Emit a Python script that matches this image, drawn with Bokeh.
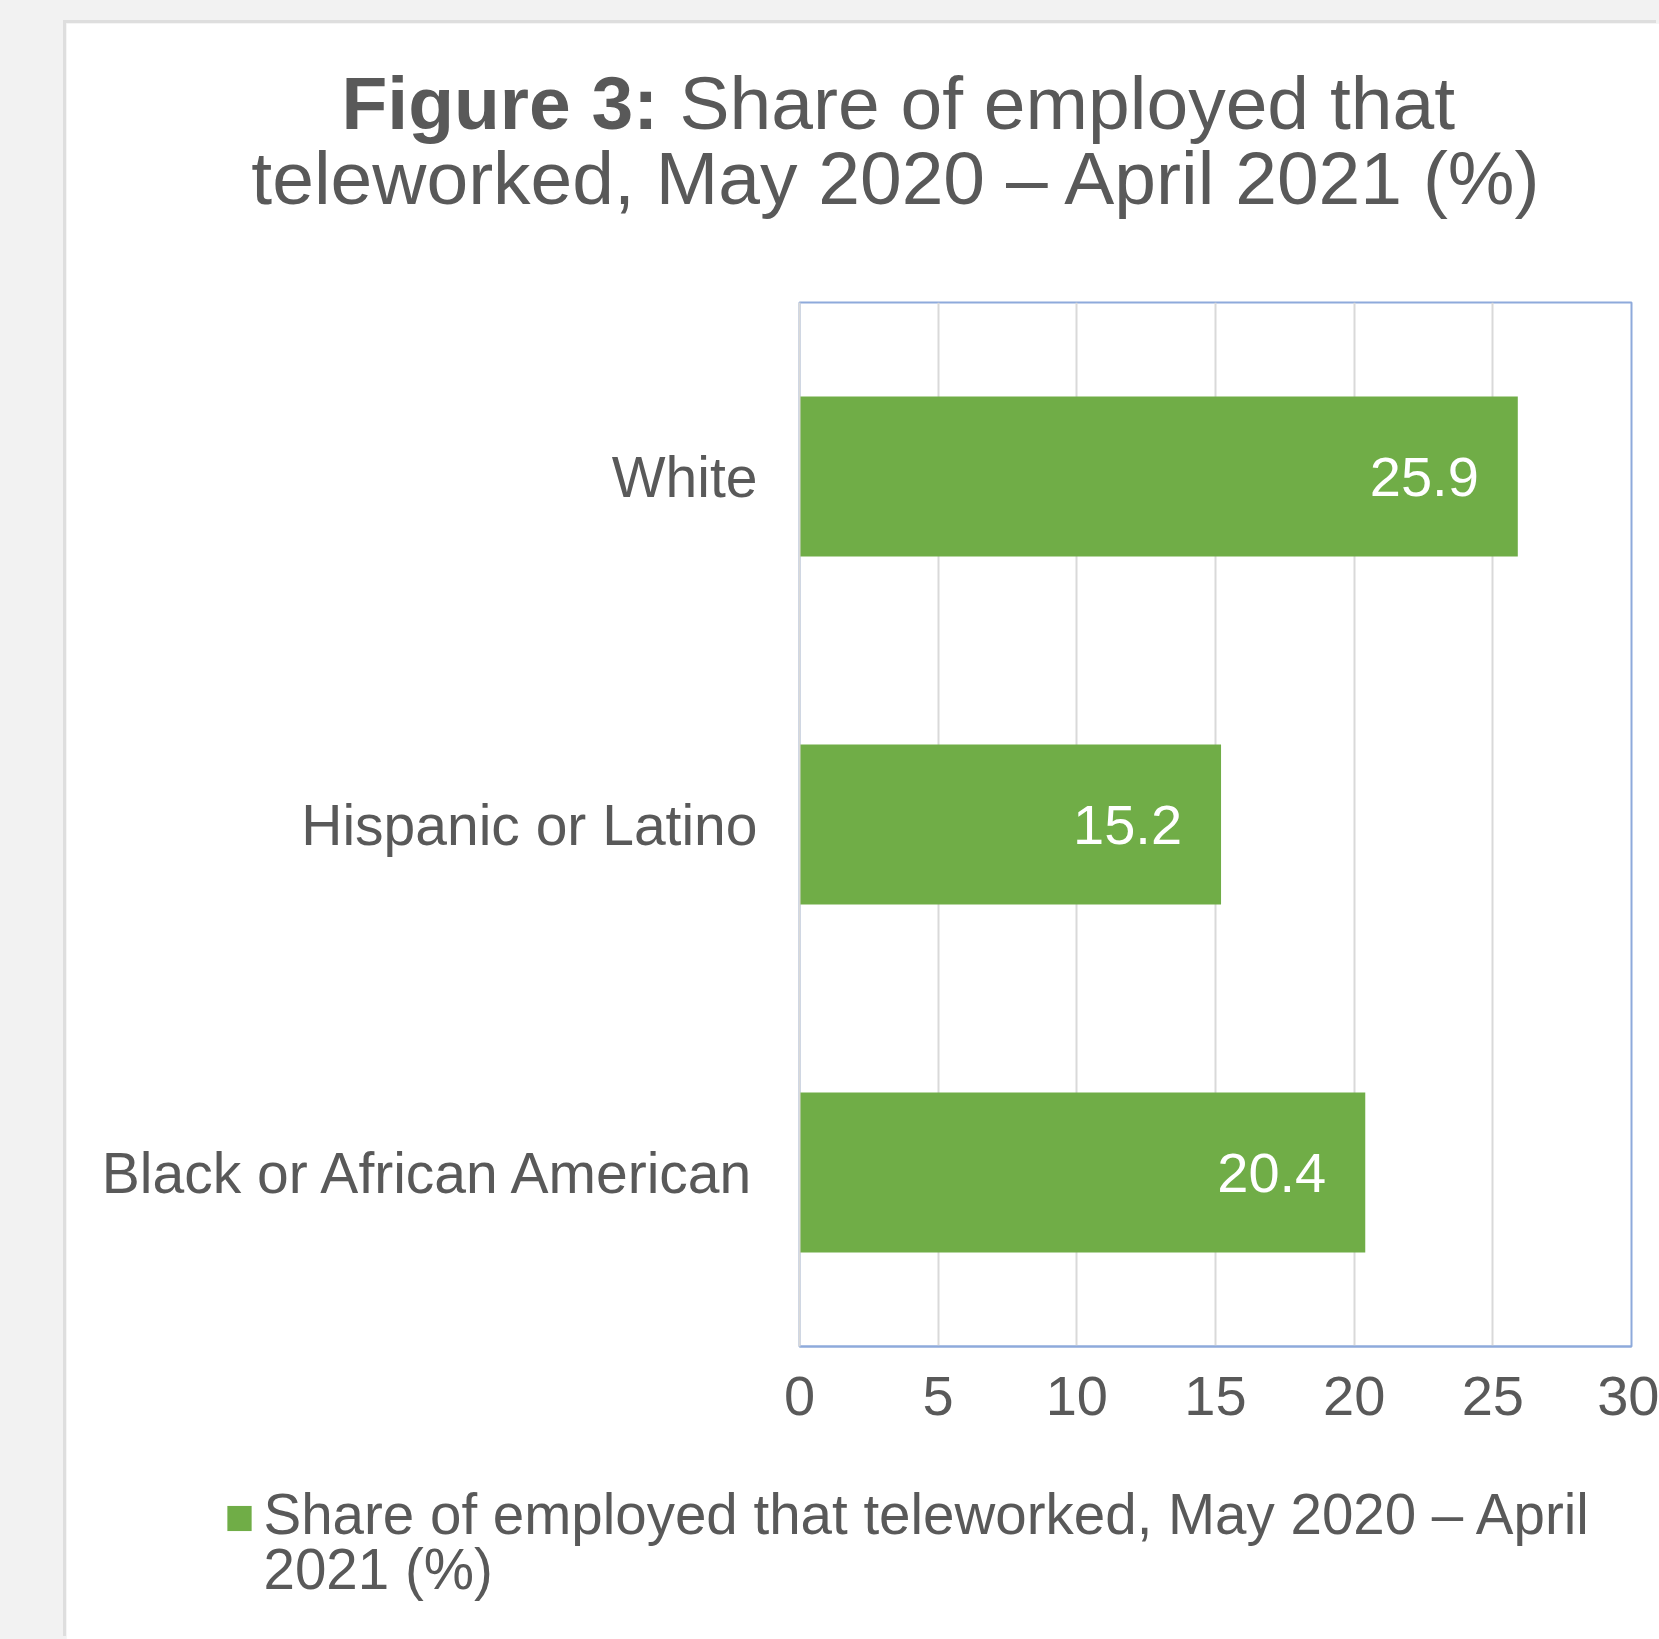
from bokeh.plotting import figure
from bokeh.models import (ColumnDataSource, FactorRange, Range1d, FixedTicker,
                          Label, GlobalInlineStyleSheet)
from bokeh.layouts import column
from bokeh.core.properties import value
from bokeh.embed import file_html
from bokeh.resources import INLINE

categories = ["White", "Hispanic or Latino", "Black or African American"]
shares = [25.9, 15.2, 20.4]
x_ticks = [0, 5, 10, 15, 20, 25, 30]
legend_line1 = "Share of employed that teleworked, May 2020 \u2013 April"
legend_line2 = "2021 (%)"
title_bold = "Figure 3:"
title_line1 = "Share of employed that"
title_line2 = "teleworked, May 2020 \u2013 April 2021 (%)"

FONT = "Liberation Sans"
TXT = "#595959"
GREEN = "#70ad47"
BLUE = "#8eaadb"
GRID = "#d9d9d9"

W, H = 1593, 1616
src = ColumnDataSource(dict(cat=categories, val=shares, lab=[f"{v:.1f}" for v in shares]))

p = figure(width=W, height=H, output_backend="svg", toolbar_location=None,
           y_range=FactorRange(factors=list(reversed(categories)), range_padding=0),
           x_range=Range1d(0, 30),
           min_border_left=733, min_border_right=28, min_border_top=279, min_border_bottom=293)
p.margin = (23, 0, 0, 66)
p.styles = {"box-shadow": "-3px -3px 0 #dedede"}
p.background_fill_color = "white"
p.border_fill_color = "white"
p.outline_line_color = BLUE
p.outline_line_width = 2

r = p.hbar(y="cat", right="val", left=0, height=0.46, source=src, color=GREEN, line_color=None)

p.text(x="val", y="cat", text="lab", source=src, x_offset=-39, text_align="right",
       text_baseline="middle", text_color="white", text_font=value(FONT), text_font_size="56px")

# axes
xa = p.xaxis[0]
xa.ticker = FixedTicker(ticks=x_ticks)
xa.major_tick_line_color = None
xa.minor_tick_line_color = None
xa.axis_line_color = BLUE
xa.axis_line_width = 2
xa.major_label_text_font = FONT
xa.major_label_text_font_size = "56px"
xa.major_label_text_color = TXT
xa.major_label_standoff = 24

ya = p.yaxis[0]
ya.major_tick_line_color = None
ya.axis_line_color = GRID
ya.axis_line_width = 2
ya.major_label_text_font = FONT
ya.major_label_text_font_size = "57px"
ya.major_label_text_color = TXT
ya.major_label_standoff = 36

p.xgrid.grid_line_color = GRID
p.xgrid.grid_line_width = 2
p.xgrid.ticker = FixedTicker(ticks=x_ticks)
p.ygrid.grid_line_color = None

def tlabel(x, y, text, bold=False, align="left", size="75px"):
    return Label(x=x, y=y, x_units="canvas", y_units="canvas", text=text,
                 text_font=FONT, text_font_style="bold" if bold else "normal",
                 text_font_size=size, text_color=TXT, text_align=align,
                 text_baseline="alphabetic")

# title (canvas units, held in the top border panel)
p.add_layout(tlabel(275, 79, title_bold, bold=True), "above")
p.add_layout(tlabel(613, 79, title_line1), "above")
p.add_layout(tlabel(831, 154, title_line2, align="center"), "above")

# legend: swatch + two-line series name
swatch = Label(x=173, y=1495, x_units="canvas", y_units="canvas", text=" ",
               text_font_size="1px", text_align="center", text_baseline="middle",
               padding=12, background_fill_color=GREEN, border_line_color=None)
p.add_layout(swatch, "left")
p.add_layout(tlabel(197, 1491, legend_line1, size="56.5px"), "below")
p.add_layout(tlabel(197, 1546, legend_line2, size="56.5px"), "below")

layout = column(p, width=1659, height=1639,
                styles={"background-color": "#f2f2f2"},
                stylesheets=[GlobalInlineStyleSheet(css="body{background:#f2f2f2;}")])

open("out.html", "w").write(file_html(layout, INLINE))
